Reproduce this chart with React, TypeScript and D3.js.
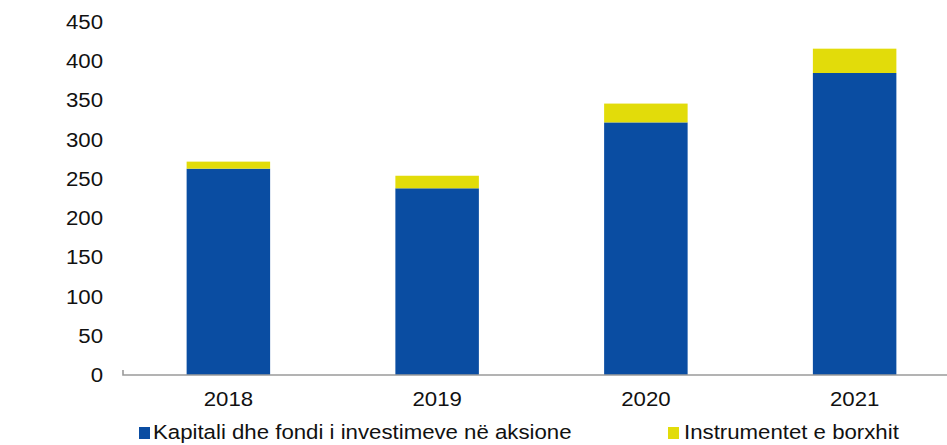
import React from "react";
import * as d3 from "d3";

const categories = ["2018", "2019", "2020", "2021"];
const equity = [263, 238, 322, 385];
const debt = [9, 16, 24, 31];
const yTicks = [0, 50, 100, 150, 200, 250, 300, 350, 400, 450];
const seriesNames = ["Kapitali dhe fondi i investimeve në aksione", "Instrumentet e borxhit"];
const colors = ["#0a4da2", "#e2dc0a"];

const W = 947;
const H = 445;
const FONT = "'Liberation Sans', Arial, sans-serif";
const SX = 1.14;

function T({ x, y, anchor, children }: { x: number; y: number; anchor: string; children: React.ReactNode }) {
  return (
    <g transform={`translate(${x},${y}) scale(${SX},1)`}>
      <text x={0} y={0} textAnchor={anchor} dominantBaseline="central" fontSize={19.5} fill="#111" fontFamily={FONT}>
        {children}
      </text>
    </g>
  );
}

export default function App() {
  const x = d3.scaleBand<string>().domain(categories).range([124, 959]).paddingInner(0.6).paddingOuter(0.3);
  const y = d3.scaleLinear().domain([0, 450]).range([375, 22]);
  const bw = x.bandwidth();
  return (
    <svg width={W} height={H} style={{ position: "absolute", left: 0, top: 0, background: "#fff" }}>
      {categories.map((c, i) => (
        <g key={c}>
          <rect x={x(c)} y={y(equity[i])} width={bw} height={y(0) - y(equity[i])} fill={colors[0]} />
          <rect x={x(c)} y={y(equity[i] + debt[i])} width={bw} height={y(equity[i]) - y(equity[i] + debt[i])} fill={colors[1]} />
        </g>
      ))}
      <path d={`M123,${y(0) - 5}V${y(0)}H${W}`} fill="none" stroke="#9a9a9a" strokeWidth={1.6} />
      {yTicks.map((t) => (
        <T key={t} x={103} y={y(t)} anchor="end">{t}</T>
      ))}
      {categories.map((c) => (
        <T key={c} x={(x(c) as number) + bw / 2} y={399} anchor="middle">{c}</T>
      ))}
      <rect x={139} y={427} width={11} height={12} fill={colors[0]} />
      <T x={153} y={432} anchor="start">{seriesNames[0]}</T>
      <rect x={668} y={427} width={11} height={12} fill={colors[1]} />
      <T x={684} y={432} anchor="start">{seriesNames[1]}</T>
    </svg>
  );
}
